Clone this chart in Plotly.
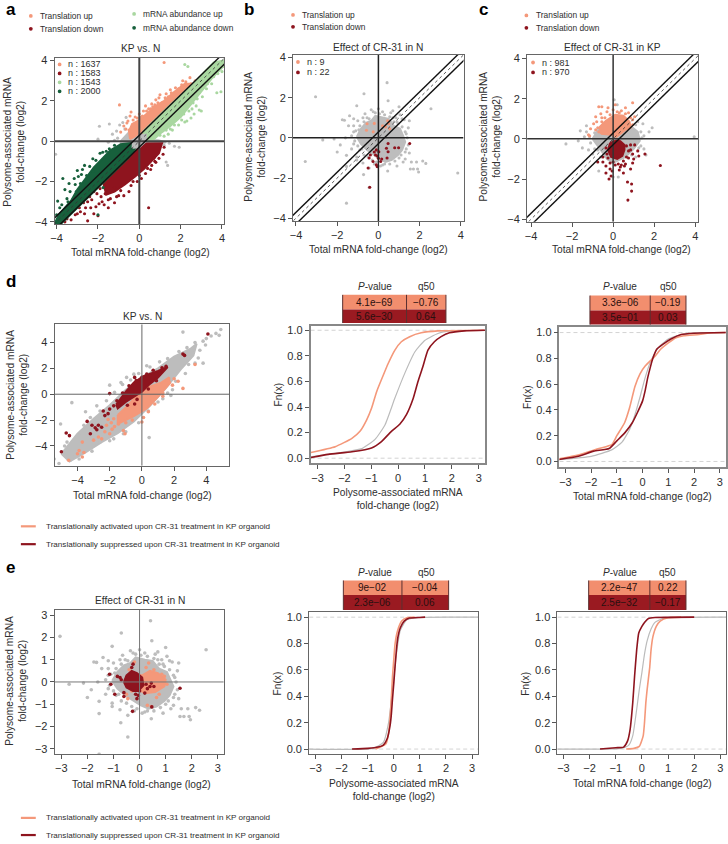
import plotly.graph_objects as go

W, H = 728, 844
SALMON = "#F4987A"
DARK = "#8E141E"
LGREEN = "#A9D7A0"
DGREEN = "#17603C"
GREY = "#BDBDBD"
TXT = "#2E2E2E"
FONT = "Liberation Sans"

# ---------- panel a: KP vs. N ----------
a_n_labels = ["n : 1637", "n : 1583", "n : 1543", "n : 2000"]
a_up_core = [(-.45, .1), (-.5, .5), (-.35, .85), (0, 1.05), (.4, 1.4), (.8, 1.75), (1.2, 2.0), (1.7, 2.45), (2.2, 2.85),
             (2.55, 2.85), (1.5, 1.8), (.6, .9), (.2, .5), (.1, .15), (-.1, .3)]
a_up = [(-.6, .9), (-.75, .75), (-.5, .55), (-.9, .45), (-.45, 1.25), (-.2, 1.2), (0, 1.35), (.2, 1.5), (.3, 1.75),
        (.6, 1.85), (.8, 2.05), (1.0, 2.3), (1.3, 2.35), (1.5, 2.55), (1.75, 2.65), (2.1, 3.0), (2.5, 2.85), (2.45, 3.15),
        (1.2, 3.9), (2.7, 3.0), (1.1, 1.9), (.95, 2.15), (.45, 1.6), (-.96, 1.8), (-.3, 1.05), (.15, 1.25), (1.4, 2.2),
        (-.65, .6), (-.55, 1.0), (-.1, 1.15), (.35, 1.5), (.65, 1.7), (.9, 1.9), (1.25, 2.15), (1.55, 2.4), (1.9, 2.6),
        (2.25, 2.95), (2.05, 2.8), (.1, 1.2), (-.4, 1.45), (.55, 1.6), (.75, 1.8)]
a_mu_core = [(.2, .05), (.7, .1), (1.1, .45), (1.5, .75), (2.0, 1.2), (2.4, 1.7), (3.0, 2.5), (3.5, 3.1), (4.1, 3.75),
             (4.1, 4.0), (3.6, 3.9), (2.6, 2.85), (1.5, 1.8), (.6, .9), (.2, .5)]
a_mu = [(2.2, 3.8), (2.35, 3.7), (3.1, 3.3), (3.1, 2.85), (4.0, 3.45), (4.05, 3.7), (3.75, 2.4), (3.95, 2.45), (2.9, 1.55),
        (3.0, 1.5), (2.3, 1.0), (2.15, 1.35), (2.6, 1.9), (2.2, .95), (1.9, .8), (1.6, .55), (1.4, .35), (1.2, .25),
        (2.8, 2.1), (2.9, 2.4), (3.5, 2.85), (3.6, 3.2), (2.5, 1.15), (1.75, 1.05), (2.4, 1.5), (3.25, 2.6),
        (1.3, .55), (1.7, .8), (2.05, 1.05), (2.55, 1.6), (2.75, 1.75), (2.65, 1.35), (3.05, 2.2), (3.3, 2.85), (3.8, 3.35),
        (1.0, .3), (1.5, .6)]
a_dn_core = [(.05, -.12), (.7, -.1), (1.1, -.1), (.95, -.6), (.6, -1.0), (.25, -1.35), (-.2, -1.75), (-.7, -2.15), (-1.2, -2.5),
             (-1.6, -2.65), (-1.75, -2.05), (-.5, -.8), (-.1, -.4)]
a_dn = [(.45, -3.3), (.8, -1.05), (1.15, -.65), (.95, -.85), (.6, -1.2), (.55, -1.4), (.3, -1.6), (.1, -1.85), (-.1, -2.0),
        (-.4, -2.2), (-.5, -2.5), (-.75, -2.7), (-1.0, -2.7), (-1.2, -3.05), (-1.5, -3.3), (-1.8, -3.0), (-2.2, -3.6),
        (-2.5, -3.95), (-3.0, -3.6), (-2.9, -3.3), (-3.3, -3.9), (-3.6, -4.0), (-2.0, -3.7), (-1.65, -2.6), (-2.3, -2.9),
        (-2.6, -3.3), (-3.15, -3.4), (-2.1, -3.25), (-1.2, -2.3), (1.2, -.3), (.7, -.85),
        (-1.9, -2.35), (-2.05, -2.6), (-2.2, -2.5), (-2.4, -2.75), (-2.5, -3.0), (-2.7, -3.05), (-2.85, -3.5), (-2.95, -3.15),
        (-3.1, -3.65), (-3.4, -3.6), (-3.5, -3.85), (-1.85, -2.75), (-1.95, -3.1), (-2.35, -3.3), (-1.4, -2.85), (-1.1, -2.75),
        (-1.7, -3.15), (-.9, -2.45), (-2.65, -3.6), (-.3, -2.0), (.0, -1.7), (.4, -1.35), (.75, -1.0), (-1.5, -2.9)]
a_md_core = [(-.1, -.05), (-.9, -.15), (-1.4, -.45), (-1.8, -.85), (-2.2, -1.3), (-2.6, -1.85), (-3.0, -2.4), (-3.3, -2.95),
             (-3.9, -3.65), (-4.1, -4.1), (-3.8, -4.1), (-1.6, -1.9), (-.5, -.8), (-.2, -.35)]
a_md = [(-3.7, -1.85), (-3.4, -2.1), (-3.95, -2.97), (-4.0, -3.65), (-3.0, -1.45), (-2.65, -1.2), (-2.25, -.87), (-1.77, -.55),
        (-3.15, -1.85), (-2.75, -2.35), (-3.2, -2.85), (-3.55, -3.3), (-2.9, -2.85), (-2.5, -2.67), (-2.1, -2.35), (-2.0, -3.65),
        (-2.25, -1.5), (-1.45, -.38), (-2.95, -1.75), (-2.55, -1.7), (-3.6, -2.4), (-1.2, -.2), (-1.9, -.6), (-2.75, -1.4),
        (-3.3, -3.1), (-1.75, -2.3), (-2.4, -1.25), (-2.8, -1.65), (-3.1, -2.15), (-3.35, -2.5), (-3.5, -2.85), (-3.75, -3.15),
        (-2.1, -.95), (-1.6, -.5), (-2.85, -2.1), (-3.05, -2.5), (-3.45, -3.0), (-3.85, -3.3)]
a_grey_core = [(-.9, 0), (-.55, .4), (-.4, .55), (.1, .2), (.25, .05), (.9, .05), (1.3, -.05), (.9, -.14), (.1, -.15), (-.2, -.3), (-.9, -.14)]
a_center_core = [(-.33, -.33), (-.3, .02), (0, .3), (.32, .32), (.3, -.02), (0, -.3)]
a_grey = [(-1.93, .74), (-1.45, .85), (-.64, 1.18), (-.8, .93), (-1.1, .5), (-2.0, .1), (-4.05, -.65), (1.3, -1.03), (1.37, -1.2),
          (1.93, -.3), (1.7, -.25), (-1.3, .35), (-.7, .6), (-1.05, .15), (-1.5, -.05), (1.45, -.1), (1.2, -.2), (-1.2, .05), (-.95, .8)]

# ---------- panels b and e: effect of CR-31 in N (same genes) ----------
b_n_labels = ["n : 9", "n : 22"]
n_core = [(-1.05, .05), (-.85, .45), (-.6, .75), (-.35, .85), (-.15, 1.1), (.2, 1.0), (.5, .95), (.75, .6), (1.05, .45), (1.2, .1),
          (1.3, -.2), (1.15, -.6), (.95, -.85), (.65, -1.1), (.35, -1.2), (.05, -1.05), (-.3, -.8), (-.55, -.6), (-.85, -.3)]
n_grey = [(-3.05, 2.05), (-.7, 2.2), (.42, 2.75), (.47, 1.85), (2.55, 1.45), (-.45, -2.47), (-.72, -1.83), (-1.55, -1.42),
          (-1.55, -.87), (-2.7, -.1), (-2.15, -.05), (-2.0, -.7), (-1.85, -.35), (-1.6, 0), (-1.75, .9), (-1.65, .88),
          (-1.45, .6), (-1.4, 1.1), (-1.2, .95), (-1.0, .85), (-.95, .4), (-1.05, 1.6), (-.65, 1.2), (-.9, -.6), (-1.05, -.95),
          (-.75, -1.25), (-.45, -1.5), (.1, -1.4), (.45, -1.65), (.9, -1.4), (1.2, -1.2), (1.3, -1.05), (1.55, -1.55),
          (1.9, -1.55), (1.85, -1.2), (1.95, -1.7), (2.15, -1.15), (2.3, -1.27), (1.7, -1.55), (1.5, -.75), (.6, 1.25),
          (1.0, 1.55), (.7, 1.35), (.2, 1.3), (0, 1.45), (-.25, 1.3), (1.25, .9), (1.5, .85), (1.45, .5), (1.15, .95),
          (-1.05, -1.1), (-.35, 1.4), (3.85, -1.75), (-3.55, -1.18), (-1.55, -3.25), (-.55, 1.0), (1.3, .3), (1.35, -.55),
          (-1.2, -.3), (-1.2, .3), (.3, -1.3), (-.2, -1.3), (.7, 1.0), (1.0, -1.0), (1.6, -1.2), (.9, .8),
          (-1.2, .6), (-1.1, .35), (-1.3, .1), (-1.15, -.15), (-1, -.4), (-.8, -.55), (-.7, -.85), (-.5, -.95), (-.3, -1.1),
          (-.1, -1.2), (.2, -1.35), (.55, -1.3), (.8, -1.15), (1.1, -.85), (1.3, -.7), (1.45, -.35), (1.4, 0), (1.35, .2),
          (1.15, .55), (.95, .7), (.75, .8), (.55, 1.05), (.3, 1.15), (.05, 1.2), (-.15, 1.25), (-.45, .95), (-.7, .8),
          (-.9, .6), (-.75, 1.0), (.85, 1.0), (1.05, 1.15), (-1.3, -.55)]
b_up = [(-.58, .38), (-.55, .7), (.35, .55), (.45, .85), (.2, .6), (-.2, .72), (.5, .7), (-.25, .3), (.55, .45)]
b_dn = [(-.42, -2.46), (1.52, -.28), (.47, -.28), (.79, -.49), (.98, -.49), (.39, -.52), (.47, -.69), (-.1, -.6), (.02, -.69),
        (-.14, -.85), (-.39, -.85), (0, -1.02), (.11, -1.18), (-.1, -1.34), (-.5, -1.5), (-.06, -1.43), (-.26, -1.18),
        (.42, -1.0), (-.2, -.7), (-.05, -.9), (.16, -1.05), (-.45, -1.0)]
e_up_core = [(-.1, .3), (.1, .3), (.4, .5), (.7, .4), (1.0, .1), (.95, -.2), (.6, -.45), (.2, -.5), (-.1, -.3)]
e_up = [(-.2, .9), (.35, .85), (.55, .55), (-.45, -.75), (.45, -1.1), (-.5, -.55), (.3, -1.05), (.85, .35), (.65, -.7), (-.3, -.4),
        (1.05, -.1), (.75, -.55), (-.4, .55), (.25, .65), (.95, .25)]
e_dn_core = [(-.6, .0), (-.5, .3), (-.3, .5), (-.1, .4), (.1, .2), (.15, -.15), (-.05, -.4), (-.25, -.4), (-.5, -.25)]
e_dn = [(1.55, -.28), (.47, -1.12), (-.27, -1.32), (-.6, -.65), (-.6, -.48), (-.95, -.55), (-1.1, -.1), (-1.15, .35), (-.85, .25),
        (-.75, .2), (-.25, .8), (-.1, -.75), (-.15, -.55), (.3, -.3), (.4, -.2), (.55, -.2), (.2, -.5), (0, -.4), (-.05, -.6),
        (-.3, .65), (-.7, .1), (.25, -.1), (.45, -.05)]

# ---------- panel c: effect of CR-31 in KP ----------
c_n_labels = ["n : 981", "n : 970"]
c_grey_core = [(-1.0, 0), (-.7, .5), (.1, .3), (.9, .6), (1.2, .35), (1.3, -.1), (1.0, -.5), (.6, -.9), (0, -1.2), (-.3, -1.0), (-.5, -.7), (-.8, -.3)]
c_grey = [(3.95, .1), (1.9, .55), (1.75, .35), (1.5, .15), (-2.3, -.25), (-1.7, -.1), (-1.5, -.45), (-1.4, .1), (-1.0, -.75),
          (-.75, -.55), (-1.3, .65), (-1.3, .35), (.05, 1.95), (.2, 1.7), (1.35, -.35), (1.6, -.8), (1.2, .85), (.25, -1.9),
          (-.7, -1.6), (0, -1.9), (1.45, .75), (-1.6, .4), (-1.2, -.55), (1.5, -.5), (1.1, -.9),
          (-1.15, .1), (-1.1, -.2), (-.9, .3), (-.9, -.5), (-.6, -.9), (1.4, .05), (1.35, .35), (1.1, .7), (.9, -.8), (1.25, -.45)]
c_up_core = [(-.6, .25), (-.65, .6), (-.35, .9), (.1, 1.2), (.5, 1.15), (.8, .85), (.85, .55), (.6, .45), (.35, .25), (.15, .1), (-.1, .2)]
c_up = [(-.7, 1.6), (-.55, 1.6), (-.25, 1.55), (.1, 1.7), (.95, 1.8), (.6, 1.55), (.4, 1.4), (.75, 1.3), (-.85, 1.1), (-.8, .85),
        (-.95, .75), (-1.1, .5), (-.6, 1.25), (-.3, 1.35), (-1.2, .2), (1.05, 1.1), (.95, .95), (0, 1.45), (-1.15, .15), (-.55, 1.05), (.3, 1.3),
        (-.75, .55), (-.7, .35), (-.55, .85), (-.15, 1.2), (.2, 1.35), (.6, 1.25), (.85, 1.05), (.95, .7), (-.85, .45), (-.4, 1.05)]
c_dn_core = [(-.15, -.2), (-.25, -.55), (-.1, -.9), (.2, -1.0), (.45, -.85), (.55, -.55), (.55, -.3), (.35, -.12), (.15, -.08)]
c_dn = [(2.3, -1.33), (.9, -2.25), (.9, -2.6), (.72, -3.05), (.7, -2.15), (-.2, -2.0), (-.35, -1.7), (-.1, -1.85), (-.05, -1.6),
        (-.15, -1.5), (1.25, -.85), (1.55, -.75), (.95, -1.2), (1.0, -1.0), (.75, -.95), (-.75, -1.15), (-.5, -1.15), (.3, -1.55),
        (.35, -1.4), (.85, -.55), (1.2, -.6), (1.05, -.3), (.85, -1.5), (.5, -1.7), (-.5, -.9), (-.35, -1.35),
        (-.25, -.95), (0, -1.15), (.25, -1.25), (.5, -1.1), (.65, -.9), (.75, -.6), (.65, -.35), (.85, -.3), (-.35, -.45), (-.3, -.75),
        (.4, -1.3), (.1, -1.3), (-.15, -1.2), (.6, -1.25), (.95, -.75), (.55, -1.35)]

# ---------- panel d scatter: KP vs. N ----------
d_grey_core = [(-5.0, -4.6), (-4, -3.05), (-3, -1.9), (-2, -.85), (-1, .35), (0, 1.3), (1, 2.0), (2, 2.9), (3, 3.5), (3.4, 3.9),
               (3.2, 3.0), (2.4, 1.9), (1.5, .5), (.5, -.9), (-.5, -2.1), (-1.5, -3.0), (-2.5, -3.7), (-3.5, -4.5), (-4.5, -5.2)]
d_grey = [(2.55, 4.8), (4.9, 5.0), (4.6, 4.7), (4.8, 4.55), (3.8, 4.1), (4.0, 4.3), (3.6, 3.4), (3.5, 2.8), (3.8, 2.4), (-5.05, -2.3),
          (-4.35, -.65), (-2.0, .7), (-.95, 1.3), (.45, -3.35), (1.8, -.1), (.3, 2.2), (-5.45, -5.0), (-5.15, -5.35), (-4.45, -5.1),
          (-4.15, -4.85), (-4.65, -3.7), (-3.8, -2.95), (-3.2, -1.8), (-2.6, -3.7), (-1.75, -3.45), (-1.15, -3.05), (-2.8, -.9),
          (-2.2, -.5), (4.3, 4.5), (3.95, 3.8), (3.3, 4.0), (2.9, 2.3), (1.9, .35), (1.3, -.35), (-.5, 1.55), (-1.3, .9), (-3.5, -1.35),
          (-1.7, .15), (-1.2, .75), (-.7, 1.1), (-.2, 1.6), (.5, 2.1), (1.1, 2.5), (1.6, 2.75), (2.3, 3.3), (2.8, 3.6), (3.3, 2.4),
          (2.7, 1.6), (2.1, 1.0), (1.6, .1), (1.0, -.6), (.4, -1.3), (-.2, -2.2), (-1.0, -2.9), (-2.0, -3.6), (-3.1, -4.4), (-3.9, -5.0),
          (-4.8, -4.0), (-3.6, -2.4), (-2.6, -1.3)]
d_up_core = [(-1.5, -1.6), (-.9, -.9), (-.3, -.1), (.3, .5), (1.2, .9), (1.7, 1.3), (1.7, .8), (1.0, -.2), (.3, -1.1), (-.5, -1.7), (-1.5, -2.3)]
d_up = [(3.3, 2.3), (2.55, .45), (2.25, 1.0), (1.7, .9), (-1.05, -3.05), (-1.15, -2.8), (-2.0, -3.05), (-2.5, -3.45), (-3.0, -3.55),
        (-3.7, -3.7), (-3.9, -4.35), (-3.7, -4.85), (-4.55, -5.1), (-1.45, -2.3), (-2.2, -2.4), (-1.85, -2.7), (.1, -1.8), (0, -2.15),
        (-3.6, -4.5), (-2.7, -3.3), (-1.9, -2.2), (-1.7, -2.5), (-2.3, -2.9), (-4.0, -4.6), (1.3, .1), (2.0, 1.2),
        (-1.0, -2.2), (-.6, -2.0), (.4, -1.35), (.8, -.75), (1.3, -.15), (1.9, .7), (-1.75, -1.9), (-2.1, -1.95), (-.75, -1.1)]
d_dn_core = [(-1.6, -.8), (-1.0, .2), (-.5, .9), (.1, 1.4), (1, 1.8), (1.6, 2.1), (1.0, 1.3), (.5, .8), (0, .2), (-.5, -.2), (-1, -.6), (-1.5, -1.1)]
d_dn = [(4.1, 4.65), (2.55, 3.1), (2.65, 3.0), (-.45, 1.3), (0, 1.3), (-2.0, .05), (-5.0, -4.45), (-4.7, -3.0), (-4.5, -3.2), (-3.2, -3.05),
        (-3.4, -2.1), (-3.1, -2.4), (-2.8, -2.75), (-2.5, -2.55), (-2.7, -2.4), (-2.4, -1.3), (-2.3, -1.65), (-2.0, -1.15), (-1.75, -.9),
        (-1.55, -.5), (1.5, 2.15), (1.1, 1.65), (-.45, -.75), (-2.1, -1.5), (-2.9, -2.6),
        (-1.2, .1), (-.8, .65), (-.35, 1.05), (.3, 1.55), (.7, 1.85), (1.25, 2.05), (-.9, -.85), (-.3, -.4), (.4, .4), (.9, 1.05)]

# ---------- cumulative curves: (fold-change, Fn) ----------
d1_grey = [(-3.25, .01), (-2.09, .045), (-1.35, .075), (-.86, .147), (-.49, .26), (-.12, .47), (.25, .665), (.62, .83), (.99, .92),
           (1.48, .975), (1.97, .995), (3.25, 1)]
d1_up = [(-3.25, .045), (-2.34, .09), (-1.72, .155), (-1.42, .21), (-1.17, .30), (-.99, .39), (-.80, .52), (-.55, .65), (-.37, .74),
         (-.12, .845), (.12, .91), (.43, .95), (.86, .98), (1.48, .995), (3.2, 1)]
d1_dn = [(-3.25, .005), (-2.6, .03), (-1.72, .05), (-.99, .08), (-.62, .13), (-.25, .21), (.06, .265), (.31, .34), (.55, .46), (.74, .60),
         (.92, .715), (1.11, .845), (1.35, .91), (1.6, .95), (1.91, .98), (2.46, .995), (3.25, 1)]
d2_grey = [(-3.25, .015), (-2, .04), (-1.2, .09), (-.8, .15), (-.5, .25), (-.3, .36), (-.1, .5), (.1, .65), (.3, .77), (.6, .88), (1, .95),
           (1.5, .985), (2.2, .998), (3.25, 1)]
d2_up = [(-3.25, .02), (-2.5, .05), (-1.7, .10), (-1.2, .13), (-1, .2), (-.7, .3), (-.5, .42), (-.3, .58), (-.1, .68), (.1, .74), (.3, .78),
         (.5, .82), (.7, .87), (1, .92), (1.3, .96), (1.6, .975), (2.2, .985), (2.7, .998), (3.25, 1)]
d2_dn = [(-3.25, .015), (-2.5, .04), (-1.9, .08), (-1.3, .1), (-1, .16), (-.7, .22), (-.4, .3), (-.2, .38), (0, .47), (.1, .55), (.2, .65),
         (.3, .73), (.4, .8), (.55, .87), (.8, .91), (1.1, .95), (1.5, .985), (2, .995), (3.25, 1)]
e1_grey = [(-3.25, 0), (-.8, .005), (-.4, .05), (-.2, .2), (-.05, .45), (.1, .72), (.25, .9), (.5, .98), (1, .998), (3.25, 1)]
e1_up = [(-.7, 0), (-.3, .04), (-.2, .12), (-.12, .3), (-.05, .55), (0, .68), (.05, .8), (.15, .9), (.3, .97), (.5, .995), (.8, 1)]
e1_dn = [(-1.6, 0), (-1, .005), (-.6, .015), (-.4, .03), (-.25, .08), (-.15, .17), (-.1, .25), (-.05, .38), (0, .5), (.05, .63), (.1, .75),
         (.15, .84), (.25, .92), (.4, .97), (.6, .993), (1, .998), (1.2, 1)]
e2_grey = [(-3.25, 0), (-.8, .005), (-.5, .03), (-.35, .1), (-.2, .3), (-.1, .45), (0, .58), (.1, .72), (.2, .82), (.35, .91), (.5, .96),
           (.8, .99), (1.2, .998), (3.25, 1)]
e2_up = [(-.6, 0), (-.3, .005), (-.1, .02), (.05, .1), (.1, .2), (.15, .35), (.2, .45), (.3, .62), (.35, .75), (.42, .85), (.55, .93),
         (.7, .97), (1, .995), (1.5, 1)]
e2_dn = [(-1.6, 0), (-1, .01), (-.7, .015), (-.55, .06), (-.45, .15), (-.35, .35), (-.28, .55), (-.2, .75), (-.12, .88), (0, .93), (.1, .96),
         (.25, .99), (.5, .997), (2, 1)]

# ---------- tables ----------
tbl_d1 = [["4.1e−69", "−0.76"], ["5.6e−30", "0.64"]]
tbl_d2 = [["3.3e−06", "−0.19"], ["3.5e−01", "0.03"]]
tbl_e1 = [["9e−02", "−0.04"], ["2.3e−06", "0.06"]]
tbl_e2 = [["2.2e−47", "0.22"], ["2.5e−32", "−0.17"]]

# ---------- axis tick values ----------
ticks_4 = [-4, -2, 0, 2, 4]
ticks_d = [-4, -2, 0, 2, 4]
ticks_3 = [-3, -2, -1, 0, 1, 2, 3]
ticks_fn = [0, .2, .4, .6, .8, 1]

band_offset = 0.29

# panel boxes in pixels: left, right, top, bottom, then pixel anchors for two x and two y values
BOXES = {
    "a": dict(box=(51, 222, 55, 223), xa=(-4, 53, 4, 219.5), ya=(4, 58, -4, 220.7)),
    "b": dict(box=(291, 462.7, 52, 220), xa=(-4, 294, 4, 460), ya=(4, 55, -4, 217)),
    "c": dict(box=(526.7, 699, 52, 220.7), xa=(-4, 530.7, 4, 696), ya=(4, 56, -4, 218)),
    "d": dict(box=(51, 226.7, 324, 466.7), xa=(-4, 74, 4, 203.7), ya=(4, 342.3, -4, 446.7)),
    "d1": dict(box=(308.7, 484.3, 325.7, 464.3), xa=(-3, 315.7, 3, 478), ya=(1, 330, 0, 459)),
    "d2": dict(box=(559.3, 726.7, 327, 467.7), xa=(-3, 565.3, 3, 720.7), ya=(1, 332.3, 0, 462.3)),
    "e": dict(box=(51, 221.3, 611.7, 757.3), xa=(-3, 57.7, 3, 215.3), ya=(3, 617.3, -3, 752)),
    "e1": dict(box=(307.3, 477.7, 614.3, 757.3), xa=(-3, 313.7, 3, 471.3), ya=(1, 619.3, 0, 752.3)),
    "e2": dict(box=(557.3, 727.3, 614.3, 757.3), xa=(-3, 563.3, 3, 721.3), ya=(1, 619.3, 0, 752.3)),
}

fig = go.Figure()
layout = {}
ann = []
shapes = []
AX = {}


def px(x):
    return x / W


def py(y):
    return 1 - y / H


def make_axes(i, key, xticks, yticks, yfmt=None, linecol="#666666", lw=1):
    p = BOXES[key]
    l, r, t, b = p["box"]
    v1, p1, v2, p2 = p["xa"]
    kx = (p2 - p1) / (v2 - v1)
    xr = [v1 + (l - p1) / kx, v1 + (r - p1) / kx]
    v1, p1, v2, p2 = p["ya"]
    ky = (p2 - p1) / (v2 - v1)
    yr = [v1 + (b - p1) / ky, v1 + (t - p1) / ky]
    common = dict(showgrid=False, zeroline=False, showline=True, mirror=True, linecolor=linecol, linewidth=lw,
                  ticks="outside", ticklen=4, tickwidth=1, tickcolor="#555555",
                  tickfont=dict(family=FONT, size=11, color=TXT), fixedrange=True)
    sx = "" if i == 1 else str(i)
    layout["xaxis" + sx] = dict(domain=[px(l), px(r)], range=xr, anchor="y" + sx, tickvals=xticks, **common)
    ya = dict(domain=[py(b), py(t)], range=yr, anchor="x" + sx, tickvals=yticks, **common)
    if yfmt:
        ya["tickformat"] = yfmt
    layout["yaxis" + sx] = ya
    AX[key] = dict(xaxis="x" + sx, yaxis="y" + sx, xr=xr, yr=yr)


def poly(key, pts, color):
    xs = [q[0] for q in pts] + [pts[0][0]]
    ys = [q[1] for q in pts] + [pts[0][1]]
    a = AX[key]
    fig.add_trace(go.Scatter(x=xs, y=ys, mode="lines", fill="toself", fillcolor=color,
                             line=dict(color=color, width=2), xaxis=a["xaxis"], yaxis=a["yaxis"], hoverinfo="skip"))


def dots(key, pts, color, size=3.1):
    a = AX[key]
    fig.add_trace(go.Scatter(x=[q[0] for q in pts], y=[q[1] for q in pts], mode="markers",
                             marker=dict(color=color, size=size, line=dict(width=0)),
                             xaxis=a["xaxis"], yaxis=a["yaxis"], hoverinfo="skip"))


def line(key, xs, ys, color, width=1, dash="solid", shape="linear"):
    a = AX[key]
    lk = dict(color=color, width=width, dash=dash, shape=shape)
    if shape == "spline":
        lk["smoothing"] = 0.5
    fig.add_trace(go.Scatter(x=xs, y=ys, mode="lines", line=lk, xaxis=a["xaxis"], yaxis=a["yaxis"], hoverinfo="skip"))


def cross(key, color, width):
    a = AX[key]
    line(key, a["xr"], [0, 0], color, width)
    line(key, [0, 0], a["yr"], color, width)


def diagonals(key):
    lim = [-6, 6]
    line(key, lim, [lim[0] + band_offset, lim[1] + band_offset], "#111111", 1.4)
    line(key, lim, [lim[0] - band_offset, lim[1] - band_offset], "#111111", 1.4)
    line(key, lim, lim, "#333333", 0.8, dash="3px,3px")


def ecdf(key, g, u, d):
    a = AX[key]
    line(key, a["xr"], [0, 0], "#C8C8C8", 0.8, dash="4px,3px")
    line(key, a["xr"], [1, 1], "#C8C8C8", 0.8, dash="4px,3px")
    line(key, [q[0] for q in g], [q[1] for q in g], "#BBBBBB", 1.2, shape="spline")
    line(key, [q[0] for q in u], [q[1] for q in u], SALMON, 1.6, shape="spline")
    line(key, [q[0] for q in d], [q[1] for q in d], DARK, 1.6, shape="spline")


def text(x, y, s, size=10.2, anchor="center", angle=0, bold=False, color=TXT):
    if bold:
        s = "<b>" + s + "</b>"
    ann.append(dict(x=px(x), y=py(y), xref="paper", yref="paper", text=s, showarrow=False, xanchor=anchor, yanchor="middle",
                    textangle=angle, align="center", font=dict(family=FONT, size=size, color=color)))


def dot(x, y, color, r=1.9):
    shapes.append(dict(type="circle", xref="paper", yref="paper", x0=px(x - r), x1=px(x + r), y0=py(y + r), y1=py(y - r),
                       fillcolor=color, line=dict(width=0)))


def table(x0, xm, x1, y0, y1, y2, rows, hx1, hx2, hy):
    text(hx1, hy, "<i>P</i>-value", 10)
    text(hx2, hy, "q50", 10)
    for (ya, yb, col, row) in ((y0, y1, "#F28E6E", rows[0]), (y1, y2, "#9A1A21", rows[1])):
        shapes.append(dict(type="rect", xref="paper", yref="paper", x0=px(x0), x1=px(x1), y0=py(yb), y1=py(ya), fillcolor=col, line=dict(width=0)))
        text((x0 + xm) / 2, (ya + yb) / 2, row[0], 10, color="#2A1010")
        text((xm + x1) / 2, (ya + yb) / 2, row[1], 10, color="#2A1010")
    for xv in (x0, xm, x1):
        shapes.append(dict(type="line", xref="paper", yref="paper", x0=px(xv), x1=px(xv), y0=py(y2), y1=py(y0), line=dict(color="#5A3030", width=1)))


make_axes(1, "a", ticks_4, ticks_4, linecol="#666666")
make_axes(2, "b", ticks_4, ticks_4, linecol="#666666")
make_axes(3, "c", ticks_4, ticks_4, linecol="#666666")
make_axes(4, "d", ticks_d, ticks_d, linecol="#666666")
make_axes(5, "d1", ticks_3, ticks_fn, ".1f", linecol="#888888", lw=1.5)
make_axes(6, "d2", ticks_3, ticks_fn, ".1f", linecol="#888888", lw=1.5)
make_axes(7, "e", ticks_3, ticks_3, linecol="#666666")
make_axes(8, "e1", ticks_3, ticks_fn, ".1f", linecol="#666666")
make_axes(9, "e2", ticks_3, ticks_fn, ".1f", linecol="#666666")

# panel a
poly("a", a_grey_core, GREY)
dots("a", a_grey, GREY)
poly("a", a_up_core, SALMON)
dots("a", a_up, SALMON)
poly("a", a_mu_core, LGREEN)
dots("a", a_mu, LGREEN)
poly("a", a_dn_core, DARK)
dots("a", a_dn, DARK)
poly("a", a_md_core, DGREEN)
dots("a", a_md, DGREEN)
poly("a", a_center_core, GREY)
cross("a", "#444444", 2)
diagonals("a")

# panel b
poly("b", n_core, GREY)
dots("b", n_grey, GREY)
dots("b", b_up, SALMON)
dots("b", b_dn, DARK)
cross("b", "#222222", 1.5)
diagonals("b")

# panel c
poly("c", c_grey_core, GREY)
dots("c", c_grey, GREY)
poly("c", c_up_core, SALMON)
dots("c", c_up, SALMON)
poly("c", c_dn_core, DARK)
dots("c", c_dn, DARK)
cross("c", "#333333", 1.5)
diagonals("c")

# panel d scatter
poly("d", d_grey_core, GREY)
dots("d", d_grey, GREY, 3.6)
poly("d", d_up_core, SALMON)
dots("d", d_up, SALMON, 3.6)
poly("d", d_dn_core, DARK)
dots("d", d_dn, DARK, 3.6)
cross("d", "#666666", 1)

# panel e scatter
poly("e", n_core, GREY)
dots("e", n_grey, GREY, 3.6)
poly("e", e_up_core, SALMON)
dots("e", e_up, SALMON, 3.6)
poly("e", e_dn_core, DARK)
dots("e", e_dn, DARK, 3.6)
cross("e", "#777777", 1)

ecdf("d1", d1_grey, d1_up, d1_dn)
ecdf("d2", d2_grey, d2_up, d2_dn)
ecdf("e1", e1_grey, e1_up, e1_dn)
ecdf("e2", e2_grey, e2_up, e2_dn)

# letters
for s, x, y in (("a", 7, 7), ("b", 247, 7), ("c", 483, 7), ("d", 7, 281), ("e", 7, 569)):
    text(x, y, s, 17, bold=True, color="#000000")

# top legends
L = 8.4
dot(27, 13, SALMON); text(34, 13, "Translation up", L, "left")
dot(27, 26, DARK); text(34, 26, "Translation down", L, "left")
dot(131, 11, LGREEN); text(138, 11, "mRNA abundance up", L, "left")
dot(131, 25, DGREEN); text(138, 25, "mRNA abundance down", L, "left")
for mx, tx, y1, y2 in ((291, 298, 12, 24), (526, 534, 12.5, 25)):
    dot(mx, y1, SALMON); text(tx, y1, "Translation up", L, "left")
    dot(mx, y2, DARK); text(tx, y2, "Translation down", L, "left")

# in-plot counts
for lab, col, y in zip(a_n_labels, (SALMON, DARK, LGREEN, DGREEN), (62, 71, 80, 89)):
    dot(56, y, col); text(62, y, lab, 9, "left")
for lab, col, y in zip(b_n_labels, (SALMON, DARK), (59.5, 70)):
    dot(296, y, col); text(302.7, y, lab, 9, "left")
for lab, col, y in zip(c_n_labels, (SALMON, DARK), (60, 70)):
    dot(532.7, y, col); text(540, y, lab, 9, "left")

# titles
text(137, 46, "KP vs. N")
text(377, 45, "Effect of CR-31 in N")
text(613, 45, "Effect of CR-31 in KP")
text(139, 316, "KP vs. N")
text(136.7, 602, "Effect of CR-31 in N")

# axis labels
XT = "Total mRNA fold-change (log2)"
YT = "Polysome-associated mRNA<br>fold-change (log2)"
PT = "Polysome-associated mRNA<br>fold-change (log2)"
for x, y in ((137, 252), (377, 249), (621.7, 249), (139, 496.7), (138, 788), (642.7, 497.7), (642.7, 787)):
    text(x, y, XT)
for x, y in ((396.7, 500), (392.7, 794)):
    text(x, y, PT)
for x, y in ((10, 140), (252.5, 135), (489, 135), (13, 395), (12.6, 684)):
    text(x, y, YT, angle=-90)
for x, y in ((276.7, 395), (527.3, 397.7), (275, 686), (525, 686)):
    text(x, y, "Fn(x)", angle=-90)

# tables
table(341, 405.3, 445, 294.3, 309, 322.7, tbl_d1, 374, 425, 286)
table(590, 650.7, 686.7, 295, 310, 324.3, tbl_d2, 620, 668.7, 286)
table(341.7, 400.7, 447.7, 582.3, 597, 612, tbl_e1, 373.3, 425.7, 574)
table(588.7, 650.3, 686.7, 582.3, 597, 612, tbl_e2, 620, 667.7, 574)

# bottom legends
A_TXT = "Translationally activated upon CR-31 treatment in KP organoid"
S_TXT = "Translationally suppressed upon CR-31 treatment in KP organoid"
for y, col, s in ((527.7, SALMON, A_TXT), (545.7, DARK, S_TXT), (821.7, SALMON, A_TXT), (839, DARK, S_TXT)):
    shapes.append(dict(type="line", xref="paper", yref="paper", x0=px(17), x1=px(32), y0=py(y), y1=py(y), line=dict(color=col, width=2.2)))
    text(40.7, y, s, 8.1, "left")

fig.update_layout(width=W, height=H, autosize=False, margin=dict(l=0, r=0, t=0, b=0), showlegend=False,
                  paper_bgcolor="white", plot_bgcolor="white", annotations=ann, shapes=shapes, **layout)
fig.write_html("out.html", config={"displayModeBar": False},
               post_script="document.body.style.margin='0';document.body.style.overflow='hidden';")
